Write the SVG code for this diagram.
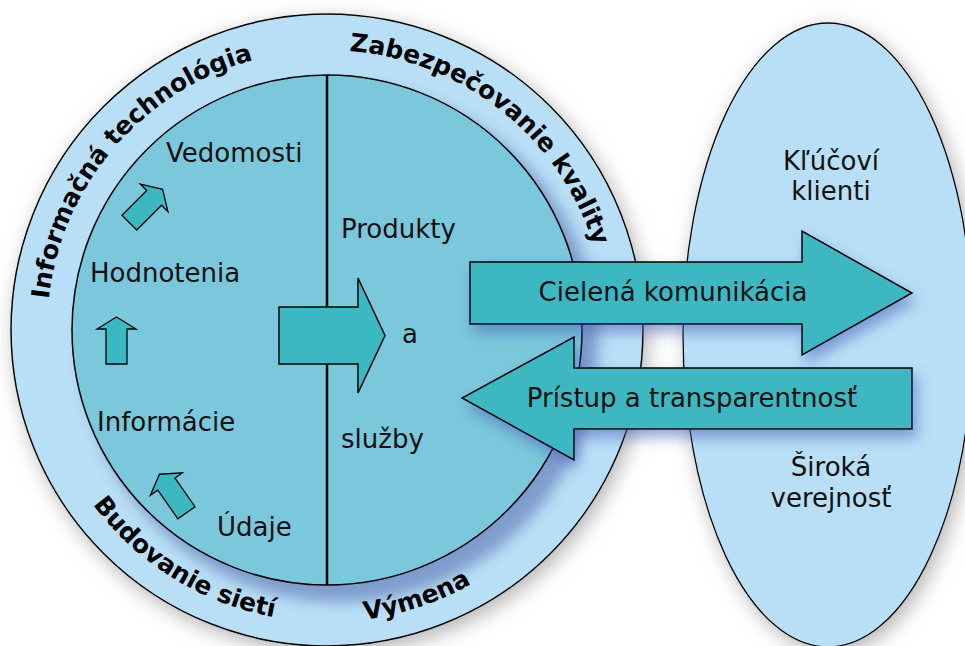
<svg xmlns="http://www.w3.org/2000/svg" width="965" height="646" viewBox="0 0 965 646">
<defs>
<style>
.lbl{font-family:"DejaVu Sans",Verdana,sans-serif;font-size:26px;fill:#111}
.ring{font-family:"DejaVu Sans",Verdana,sans-serif;font-size:25px;font-weight:bold;fill:#000}
.big{fill:#3cb8c2;stroke:#000;stroke-width:1.5;stroke-linejoin:miter}
.small{fill:#3cb8c2;stroke:#000;stroke-width:1.3}
</style>
<filter id="glow" x="-20%" y="-20%" width="140%" height="140%">
<feGaussianBlur in="SourceAlpha" stdDeviation="10"/>
<feOffset dx="4" dy="6" result="b"/>
<feFlood flood-color="#777" flood-opacity="0.55"/>
<feComposite in2="b" operator="in"/>
<feMerge><feMergeNode/><feMergeNode in="SourceGraphic"/></feMerge>
</filter>
<filter id="blueglow" x="-20%" y="-40%" width="140%" height="180%">
<feGaussianBlur in="SourceAlpha" stdDeviation="7"/>
<feOffset dx="4" dy="8" result="b"/>
<feFlood flood-color="#4a5fb8" flood-opacity="0.55"/>
<feComposite in2="b" operator="in"/>
<feMerge><feMergeNode/><feMergeNode in="SourceGraphic"/></feMerge>
</filter>
<filter id="soft"><feGaussianBlur stdDeviation="7"/></filter>
<clipPath id="outerClip"><circle cx="327" cy="330" r="316"/></clipPath>
<path id="topArc" d="M47,330 A280,280 0 1 1 607,330 A280,280 0 1 1 47,330"/>
<path id="botArc" d="M35,330 A292,292 0 0 0 619,330"/>
<path id="upArrow" d="M0,-23.5 L19.5,-11.5 L10.5,-11.5 L10.5,23.5 L-10.5,23.5 L-10.5,-11.5 L-19.5,-11.5 Z"/>
</defs>
<rect width="965" height="646" fill="#fff"/>

<g id="ellipse-node">
<ellipse cx="828" cy="335" rx="145" ry="312" fill="#b8dff6" stroke="#000" stroke-width="1.3" filter="url(#glow)"/>
<text class="lbl" x="831" y="170" text-anchor="middle">Kľúčoví</text>
<text class="lbl" x="831" y="200" text-anchor="middle">klienti</text>
<text class="lbl" x="831" y="476" text-anchor="middle">Široká</text>
<text class="lbl" x="831" y="507" text-anchor="middle">verejnosť</text>
</g>

<g id="circle-node">
<circle cx="327" cy="330" r="316" fill="#b9dff6" stroke="#000" stroke-width="1.5" filter="url(#glow)"/>
<g clip-path="url(#outerClip)">
<circle cx="340" cy="344" r="258" fill="#6a86bf" opacity="0.75" filter="url(#soft)"/>
</g>
<circle cx="327" cy="330" r="255" fill="#7bc8dc" stroke="#000" stroke-width="1.5"/>
<line x1="327" y1="75" x2="327" y2="585" stroke="#000" stroke-width="2.5"/>
<text class="ring"><textPath href="#topArc" startOffset="198" text-anchor="middle">Informačná technológia</textPath></text>
<text class="ring"><textPath href="#topArc" startOffset="628" text-anchor="middle">Zabezpečovanie kvality</textPath></text>
<text class="ring"><textPath href="#botArc" startOffset="296" text-anchor="middle">Budovanie sietí</textPath></text>
<text class="ring"><textPath href="#botArc" startOffset="553" text-anchor="middle">Výmena</textPath></text>
</g>

<g id="left-half">
<text class="lbl" x="166" y="162">Vedomosti</text>
<text class="lbl" x="90" y="282">Hodnotenia</text>
<text class="lbl" x="97" y="431">Informácie</text>
<text class="lbl" x="217" y="536">Údaje</text>
</g>

<g id="right-half">
<text class="lbl" x="341" y="238">Produkty</text>
<text class="lbl" x="402" y="343">a</text>
<text class="lbl" x="341" y="448">služby</text>
</g>

<g id="connectors">
<use href="#upArrow" class="small" transform="translate(146,206) rotate(45)"/>
<use href="#upArrow" class="small" transform="translate(116.5,340.5)"/>
<use href="#upArrow" class="small" transform="translate(173,493.5) rotate(-35)"/>
<path class="big" d="M279,307 L358,307 L358,278 L385,335.5 L358,393 L358,364 L279,364 Z"/>
<g filter="url(#blueglow)">
<path class="big" d="M470,262 L802,262 L802,231 L912,293 L802,355 L802,324 L470,324 Z"/>
</g>
<g filter="url(#blueglow)">
<path class="big" d="M912,368 L574,368 L574,337 L462,398 L574,460 L574,429 L912,429 Z"/>
</g>
<text class="lbl" x="673" y="301" text-anchor="middle">Cielená komunikácia</text>
<text class="lbl" x="692" y="407" text-anchor="middle">Prístup a transparentnosť</text>
</g>
</svg>
